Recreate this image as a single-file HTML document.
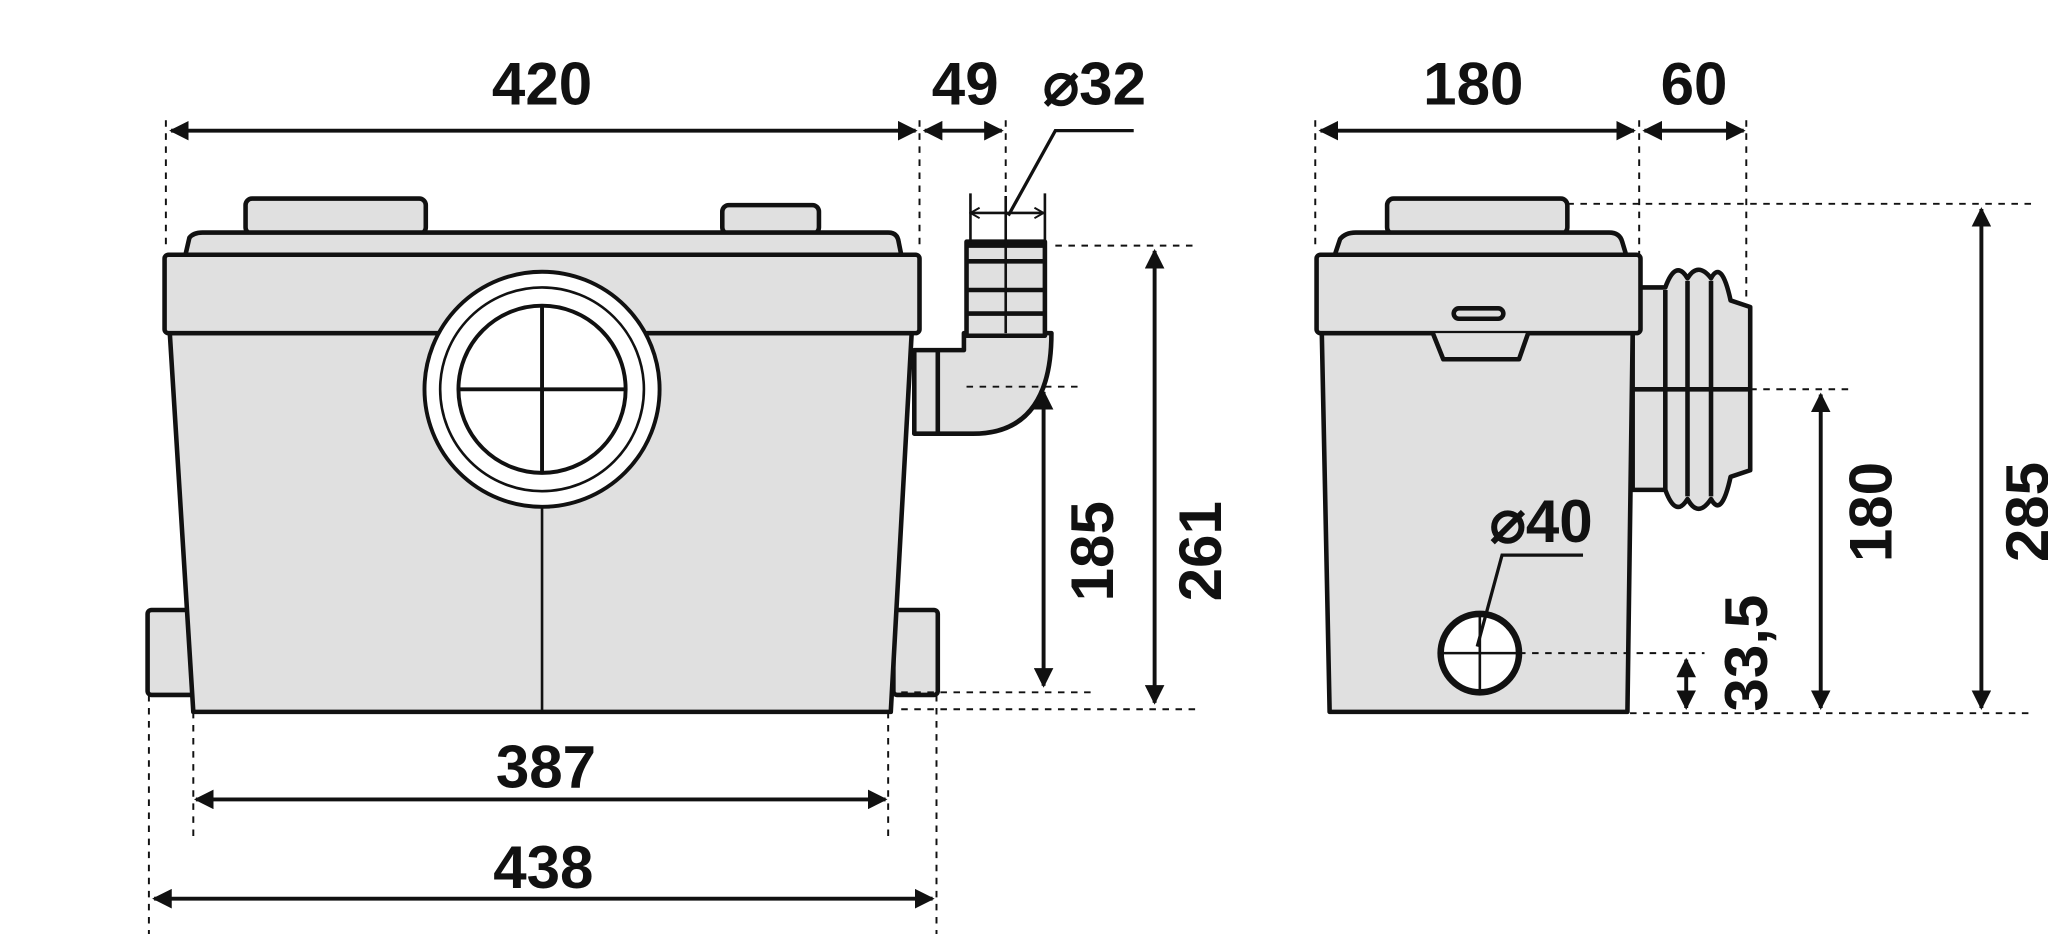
<!DOCTYPE html>
<html><head><meta charset="utf-8"><style>
html,body{margin:0;padding:0;background:#fff;width:2048px;height:934px;overflow:hidden}
svg{display:block}
text{font-family:"Liberation Sans",sans-serif;font-weight:bold;fill:#111;font-size:46px;text-anchor:middle}
</style></head><body>
<svg width="2048" height="934" viewBox="0 0 1568 715" xmlns="http://www.w3.org/2000/svg">
<defs>
<marker id="a" viewBox="0 0 10 10" refX="9" refY="5" markerWidth="5" markerHeight="5" orient="auto-start-reverse"><path d="M0,0 L10,5 L0,10z" fill="#111"/></marker>
<marker id="o" viewBox="0 0 10 10" refX="9" refY="5" markerWidth="5" markerHeight="5" orient="auto-start-reverse"><path d="M2,1 L9,5 L2,9" fill="none" stroke="#111" stroke-width="1.5"/></marker>
</defs>
<g fill="#e0e0e0" stroke="#111" stroke-width="3.5" stroke-linejoin="round">
<rect x="113" y="467" width="37" height="65" rx="3"/>
<rect x="684" y="467" width="34" height="65" rx="3"/>
<path d="M130,255 L698,255 L682,545 L148,545 Z"/>
<rect x="188" y="152" width="138" height="27" rx="5"/>
<rect x="553" y="157" width="74" height="22" rx="5"/>
<path d="M142,195 L145,182 Q148,178 155,178 L680,178 Q687,178 688,185 L690,195 Z"/>
<rect x="126" y="195" width="578" height="60" rx="3"/>
<path d="M700,268 L738,268 L738,255 L805,255 Q805,332 745,332 L700,332 Z"/>
<rect x="740" y="185" width="60" height="72"/>
<line x1="718" y1="268" x2="718" y2="332"/>
<path d="M1250,220 L1275,220 Q1283,198 1292,213 Q1300,200 1310,213 Q1318,198 1325,230 L1340,235 L1340,360 L1325,365 Q1318,397 1310,382 Q1300,397 1292,382 Q1283,397 1275,375 L1250,375 Z"/>
<path d="M1012,255 L1250,255 L1246,545 L1018,545 Z"/>
<rect x="1062" y="152" width="138" height="27" rx="5"/>
<path d="M1022,195 L1026,183 Q1030,178 1038,178 L1232,178 Q1240,178 1242,185 L1245,195 Z"/>
<rect x="1008" y="195" width="248" height="60" rx="3"/>
<path d="M1097,255 L1105,275 L1163,275 L1170,255"/>
</g>
<g stroke="#111" fill="none">
<g stroke-width="3.5">
<line x1="740" y1="222" x2="800" y2="222"/><line x1="740" y1="200" x2="800" y2="200"/>
<line x1="740" y1="240" x2="800" y2="240"/><line x1="740" y1="188" x2="800" y2="188"/>
<line x1="1250" y1="298" x2="1340" y2="298"/>
<line x1="1275" y1="222" x2="1275" y2="375"/><line x1="1292" y1="215" x2="1292" y2="380"/><line x1="1310" y1="215" x2="1310" y2="380"/>
<rect x="1113" y="236" width="38" height="8" rx="4"/>
</g>
<line x1="770" y1="150" x2="770" y2="255" stroke-width="2"/>
<line x1="415" y1="385" x2="415" y2="545" stroke-width="2"/>
<circle cx="415" cy="298" r="90" fill="#fff" stroke-width="3"/>
<circle cx="415" cy="298" r="78" stroke-width="2"/>
<circle cx="415" cy="298" r="64" stroke-width="3"/>
<line x1="351" y1="298" x2="479" y2="298" stroke-width="3"/><line x1="415" y1="234" x2="415" y2="362" stroke-width="3"/>
<circle cx="1133" cy="500" r="30" fill="#fff" stroke-width="5"/>
<line x1="1103" y1="500" x2="1163" y2="500" stroke-width="2"/><line x1="1133" y1="470" x2="1133" y2="530" stroke-width="2"/>
<g stroke-width="1.5" stroke-dasharray="5,5">
<line x1="127" y1="92" x2="127" y2="192"/><line x1="704" y1="92" x2="704" y2="192"/><line x1="770" y1="92" x2="770" y2="150"/>
<line x1="808" y1="188" x2="915" y2="188"/><line x1="690" y1="543" x2="920" y2="543"/>
<line x1="740" y1="296" x2="830" y2="296"/><line x1="690" y1="530" x2="838" y2="530"/>
<line x1="148" y1="545" x2="148" y2="640"/><line x1="680" y1="545" x2="680" y2="640"/>
<line x1="114" y1="532" x2="114" y2="715"/><line x1="717" y1="532" x2="717" y2="715"/>
<line x1="1007" y1="92" x2="1007" y2="192"/><line x1="1255" y1="92" x2="1255" y2="200"/><line x1="1337" y1="92" x2="1337" y2="232"/>
<line x1="1200" y1="156" x2="1555" y2="156"/><line x1="1248" y1="546" x2="1555" y2="546"/>
<line x1="1340" y1="298" x2="1420" y2="298"/><line x1="1163" y1="500" x2="1305" y2="500"/>
</g>
<g stroke-width="3" marker-start="url(#a)" marker-end="url(#a)">
<line x1="131" y1="100" x2="701" y2="100"/>
<line x1="708" y1="100" x2="767" y2="100"/>
<line x1="884" y1="192" x2="884" y2="538"/>
<line x1="799" y1="300" x2="799" y2="525"/>
<line x1="150" y1="612" x2="678" y2="612"/>
<line x1="118" y1="688" x2="714" y2="688"/>
<line x1="1011" y1="100" x2="1251" y2="100"/>
<line x1="1259" y1="100" x2="1335" y2="100"/>
<line x1="1517" y1="160" x2="1517" y2="542"/>
<line x1="1394" y1="302" x2="1394" y2="542"/>
<line x1="1291" y1="505" x2="1291" y2="542"/>
</g>
<line x1="743" y1="163" x2="799" y2="163" stroke-width="2" marker-start="url(#o)" marker-end="url(#o)"/>
<line x1="743" y1="148" x2="743" y2="185" stroke-width="2"/><line x1="800" y1="148" x2="800" y2="185" stroke-width="2"/>
<polyline points="868,100 808,100 772,165" stroke-width="2.5"/>
<polyline points="1212,425 1150,425 1131,495" stroke-width="2.5"/>
</g>
<text x="415" y="80">420</text>
<text x="739" y="80">49</text>
<text x="838" y="80">⌀32</text>
<text x="418" y="603">387</text>
<text x="416" y="680">438</text>
<text x="1128" y="80">180</text>
<text x="1297" y="80">60</text>
<text x="1180" y="415">⌀40</text>
<text transform="translate(852,422) rotate(-90)">185</text>
<text transform="translate(935,422) rotate(-90)">261</text>
<text transform="translate(1448,392) rotate(-90)">180</text>
<text transform="translate(1568,392) rotate(-90)">285</text>
<text transform="translate(1353,500) rotate(-90)">33,5</text>
</svg>
</body></html>
